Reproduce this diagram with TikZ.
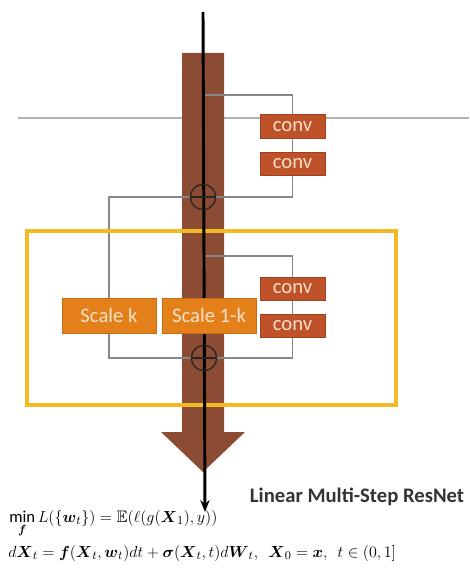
\documentclass[tikz,border=0pt]{standalone}
\usepackage{amsmath,amssymb}
\usepackage{fontspec}
\setmainfont{Carlito}
\usetikzlibrary{positioning,arrows.meta,backgrounds}
\definecolor{barbrown}{RGB}{140,76,52}
\definecolor{convred}{RGB}{192,82,42}
\definecolor{scaleorange}{RGB}{228,128,26}
\definecolor{boxyellow}{RGB}{242,186,36}
\definecolor{wiregray}{RGB}{135,135,135}
\definecolor{boxtext}{RGB}{250,224,200}
\tikzset{
  conv/.style={fill=convred,draw=convred!80!black,line width=0.5pt,text=boxtext,
    minimum width=48.75pt,minimum height=17.5pt,inner sep=0pt,
    font=\fontsize{15.5}{17}\selectfont},
  scalebox/.style={fill=scaleorange,draw=scaleorange!85!black,line width=0.5pt,text=boxtext,
    minimum width=70.5pt,minimum height=26pt,inner sep=0pt,
    font=\fontsize{15.5}{17}\selectfont},
  wire/.style={wiregray,line width=1.1pt},
  oplus/.style={circle,draw=black!85,line width=1pt,minimum size=19pt,inner sep=0pt,
    path picture={\draw[black!85,line width=1pt]
      (path picture bounding box.west) -- (path picture bounding box.east);}}
}
\begin{document}
\begin{tikzpicture}[x=0.75pt,y=-0.75pt]
\useasboundingbox (0,0) rectangle (469,577);
\coordinate (top) at (203,12);
\coordinate (bottom) at (205,512);
\coordinate (tap1) at (203,95);
\coordinate (tap2) at (204,256);
\node[conv] (conv1) at (292.5,126.5) {conv};
\node[conv] (conv2) at (292.5,164) {conv};
\node[conv] (conv3) at (292.5,289) {conv};
\node[conv] (conv4) at (292.5,326) {conv};
\node[scalebox] (scalek) at (109,315.5) {Scale k};
\node[scalebox] (scalekk) at (209,315.5) {Scale 1-k};
\node[oplus] (plus1) at (203,197) {};
\node[oplus] (plus2) at (204,358) {};
\begin{pgfonlayer}{background}
\draw[black!30,line width=0.8pt] (18,118) -- (469,118);
\fill[barbrown] (182,53) -- (224,53) -- (224,432) -- (245,432) -- (203,472) -- (161,432) -- (182,432) -- cycle;
\draw[wire] (tap1) -| (conv1.north);
\draw[wire] (conv1.south) -- (conv2.north);
\draw[wire] (conv2.south) |- (plus1.east);
\draw[wire] (plus1.west) -| (scalek.north);
\draw[wire] (scalek.south) |- (plus2.west);
\draw[wire] (tap2) -| (conv3.north);
\draw[wire] (conv3.south) -- (conv4.north);
\draw[wire] (conv4.south) |- (plus2.east);
\draw[boxyellow,line width=2.6pt] (27,231) rectangle (396,405);
\draw[black,line width=2.2pt,-{Stealth[length=9pt,width=7pt]}] (top) -- (bottom);
\end{pgfonlayer}
\node[text=black!80,font=\bfseries\fontsize{15.5}{17}\selectfont] (title) at (357,497) {Linear Multi-Step ResNet};
\node[anchor=west,inner sep=0pt,font=\fontsize{12.5}{14}\selectfont] (eq1) at (9,524)
  {$\min\limits_{\boldsymbol f} L(\{\boldsymbol w_t\}) = \mathbb{E}(\ell(g(\boldsymbol X_1),y))$};
\node[anchor=west,inner sep=0pt,font=\fontsize{12.5}{14}\selectfont] (eq2) at (8,553)
  {$d\boldsymbol X_t = \boldsymbol f(\boldsymbol X_t,\boldsymbol w_t)dt + \boldsymbol\sigma(\boldsymbol X_t,t)d\boldsymbol W_t,\ \ \boldsymbol X_0 = \boldsymbol x,\ \ t\in(0,1]$};
\end{tikzpicture}
\end{document}
